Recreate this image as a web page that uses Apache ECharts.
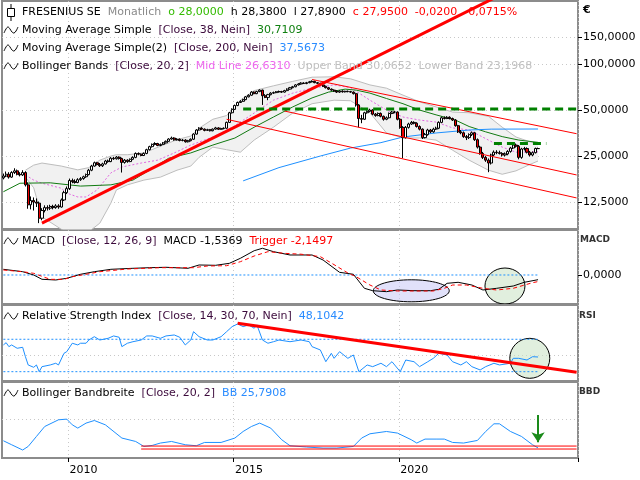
<!DOCTYPE html>
<html style="height: 100%">
<head>
    <meta charset="utf-8">
    <script src="https://cdn.jsdelivr.net/npm/echarts@6/dist/echarts.min.js"></script>
</head>
<body style="height: 100%; margin: 0; background: #fff">
    <div id="container" style="width: 640px; height: 480px"></div>
    <script type="text/javascript">
        var myChart = echarts.init(document.getElementById('container'));

        // Monatskerzen Jan 2008 .. (Index 0 = 2008-01)
        const opens = [18.0,18.5,19.0,18.2,19.5,20.0,19.0,18.8,19.5,16.2,12.0,12.8,12.5,12.3,9.8,11.0,11.5,11.4,11.7,11.5,11.8,11.6,12.9,14.4,15.3,17.3,17.0,16.8,17.5,17.8,18.3,18.9,20.2,21.5,22.6,22.0,21.6,22.2,23.2,23.0,24.2,24.0,24.6,24.1,22.7,23.5,23.0,23.8,24.5,26.0,25.7,25.2,26.0,27.5,28.8,29.8,30.2,29.3,29.8,30.5,31.2,32.3,32.8,31.9,32.2,31.6,31.8,31.0,31.5,32.2,34.8,37.0,38.0,37.5,36.8,37.2,36.6,37.5,38.2,37.4,37.8,38.0,41.5,48.0,50.5,53.5,56.0,57.0,58.5,61.0,62.5,65.5,64.0,66.0,67.5,62.0,60.5,63.0,64.5,65.0,65.8,66.0,65.5,67.0,68.5,70.0,71.0,73.0,74.0,75.0,74.5,75.5,76.5,77.0,75.5,74.8,73.0,71.5,70.0,68.5,67.5,66.5,65.5,66.5,65.8,66.3,66.0,65.5,64.0,54.0,44.0,43.5,48.0,49.0,50.0,47.0,46.0,47.5,45.5,43.5,44.5,47.5,48.5,48.5,43.5,38.5,33.0,38.5,40.5,41.5,41.0,39.0,37.5,33.0,34.5,37.0,36.0,37.5,38.0,41.5,44.5,44.0,44.8,44.0,43.0,39.5,36.0,35.5,33.5,33.0,34.5,35.5,32.0,28.6,26.0,24.5,23.5,22.5,25.4,26.5,26.3,26.0,25.4,25.8,26.8,28.2,29.5,29.0,24.5,27.8,28.0,26.5,25.4,26.3,28.0];
        const closes = [18.5,19.0,18.2,19.5,20.0,19.0,18.8,19.5,16.2,12.0,12.8,12.5,12.3,9.8,11.0,11.5,11.4,11.7,11.5,11.8,11.6,12.9,14.4,15.3,17.3,17.0,16.8,17.5,17.8,18.3,18.9,20.2,21.5,22.6,22.0,21.6,22.2,23.2,23.0,24.2,24.0,24.6,24.1,22.7,23.5,23.0,23.8,24.5,26.0,25.7,25.2,26.0,27.5,28.8,29.8,30.2,29.3,29.8,30.5,31.2,32.3,32.8,31.9,32.2,31.6,31.8,31.0,31.5,32.2,34.8,37.0,38.0,37.5,36.8,37.2,36.6,37.5,38.2,37.4,37.8,38.0,41.5,48.0,50.5,53.5,56.0,57.0,58.5,61.0,62.5,65.5,64.0,66.0,67.5,62.0,60.5,63.0,64.5,65.0,65.8,66.0,65.5,67.0,68.5,70.0,71.0,73.0,74.0,75.0,74.5,75.5,76.5,77.0,75.5,74.8,73.0,71.5,70.0,68.5,67.5,66.5,65.5,66.5,65.8,66.3,66.0,65.5,64.0,54.0,44.0,43.5,48.0,49.0,50.0,47.0,46.0,47.5,45.5,43.5,44.5,47.5,48.5,48.5,43.5,38.5,33.0,38.5,40.5,41.5,41.0,39.0,37.5,33.0,34.5,37.0,36.0,37.5,38.0,41.5,44.5,44.0,44.8,44.0,43.0,39.5,36.0,35.5,33.5,33.0,34.5,35.5,32.0,28.6,26.0,24.5,23.5,22.5,25.4,26.5,26.3,26.0,25.4,25.8,26.8,28.2,29.5,29.0,24.5,27.8,28.0,26.5,25.4,26.3,28.0,27.95];
        const highs = [19.2,19.8,19.6,19.9,20.8,20.4,19.6,20.2,19.9,16.8,13.6,13.4,13.2,12.6,11.4,11.9,11.9,12.0,12.0,12.1,12.1,13.2,14.8,15.8,17.8,17.8,17.6,17.9,18.2,18.6,19.2,20.6,21.9,23.0,22.9,22.5,22.6,23.6,23.7,24.6,24.7,25.0,24.9,24.4,23.9,23.8,24.1,24.9,26.4,26.4,26.0,26.4,27.9,29.2,30.2,30.8,30.5,30.2,30.9,31.6,32.7,33.5,33.2,32.7,32.6,32.3,32.2,31.9,32.6,35.2,37.5,38.6,38.6,37.9,37.7,37.6,37.9,38.8,38.6,38.3,38.5,42.0,48.6,51.3,54.3,56.8,58.0,59.3,61.8,63.4,66.5,66.2,66.8,68.3,68.0,63.5,63.8,65.4,66.0,66.6,67.0,66.8,67.8,69.3,70.8,71.9,73.8,74.9,76.0,76.0,76.4,77.5,78.2,77.8,76.2,75.4,73.6,72.2,70.8,69.2,68.3,67.4,67.3,67.3,66.9,67.0,66.7,66.2,64.8,54.6,46.5,48.7,49.8,51.0,50.6,47.8,48.2,48.2,46.0,45.4,48.2,49.3,49.4,49.0,44.2,39.2,39.3,41.3,42.4,42.2,41.6,39.7,37.9,35.4,37.7,37.6,38.3,38.9,42.2,45.3,45.4,45.6,45.5,44.6,43.6,40.0,37.0,36.2,34.3,35.2,36.2,36.0,32.6,29.2,26.6,25.0,24.1,25.9,27.2,27.3,27.1,26.5,26.4,27.3,28.7,30.1,30.2,29.5,28.3,28.7,28.5,27.0,26.8,28.4,28.38];
        const lows = [17.6,18.2,17.8,18.0,19.1,18.7,18.4,18.5,15.8,11.3,11.2,11.0,11.6,9.1,9.5,10.7,11.0,11.1,11.2,11.3,11.3,11.5,12.7,14.1,15.0,16.6,16.5,16.6,17.2,17.5,18.0,18.7,19.9,21.3,21.7,21.2,21.2,22.0,22.6,22.8,23.6,23.7,23.7,19.5,22.3,22.6,22.8,23.5,24.2,25.3,24.9,25.0,25.7,27.2,28.4,29.4,29.0,29.0,29.5,30.2,31.0,32.0,31.5,31.6,31.2,31.2,30.6,30.7,31.2,31.9,34.5,36.7,37.1,36.3,36.5,36.2,36.3,37.2,37.0,37.1,37.4,37.7,41.1,47.4,50.0,53.0,55.6,56.5,58.0,60.5,62.0,63.4,63.5,65.5,54.0,59.8,58.0,62.4,63.8,64.4,65.0,64.7,65.0,66.4,67.9,69.4,70.5,72.4,73.4,74.0,73.8,74.9,75.8,74.9,74.1,72.3,70.7,69.2,67.7,66.8,65.7,64.6,64.8,65.0,65.1,65.3,64.8,63.2,52.6,38.5,41.0,43.0,47.3,48.4,46.2,45.2,45.5,44.8,42.6,42.9,44.0,47.0,47.6,42.8,37.7,24.2,32.5,37.8,40.0,40.3,38.4,36.8,32.3,32.6,34.0,35.3,35.5,37.0,37.5,41.0,43.4,43.6,43.4,42.4,38.9,35.4,34.7,32.9,31.8,32.3,33.8,31.4,28.0,25.5,23.9,22.9,19.6,22.0,25.0,25.7,25.6,24.8,24.8,25.3,26.3,27.8,28.4,23.8,24.0,27.2,26.0,24.8,24.9,26.0,27.89];

        // Gleitende Durchschnitte / Bollinger (Index, Wert)
        const ma38Idx = [0,6,17,28,39,47,53,60,68,76,84,91,98,105,112,118,124,128,133,139,145,151,157,164,169,175,181,187,194];
        const ma38Val = [14.6,16.6,16.7,15.9,16.2,17.4,20.2,24.2,26.2,29.5,32.8,38.6,45,52.4,60,65.5,68.5,67.5,64.5,59.5,55,50,46.5,43,39,36,33.5,31.8,30.71];
        const ma200Idx = [87,100,115,126,137,145,157,169,177,194];
        const ma200Val = [17.2,21,25,28.2,30.6,33.3,35.4,37,37.5,37.57];
        const bbMidIdx = [8,11,14,21,23,27,30,34,39,43,50,56,62,68,76,83,91,98,105,112,120,126,133,139,145,151,157,163,169,176,181,186,194];
        const bbMidVal = [18.8,17.4,16.6,15.4,14.3,13.5,13.5,15,19.4,21.2,22.5,23.5,26.2,29.5,33.3,38.5,47.8,58,64.5,69.5,73,70,58,50,45,43,41.7,38.2,37,31.8,28.6,26.5,26.63];
        const bbIdx = [8,11,14,21,27,31,35,39,41,45,51,57,63,68,71,76,81,86,91,98,105,112,120,126,133,139,145,151,157,163,169,176,181,186,191,194];
        const bbUpper = [20.2,21.8,22.5,21.5,20.3,21.0,23.5,25.0,25.5,25.5,26.2,29.0,32.0,33.8,38.0,43.5,46.0,58.0,67.0,72.0,77.0,82.0,82.5,80.0,73.0,69.5,62.6,56.6,52.4,48.5,48.0,45.5,38.6,33.3,31.0,30.07];
        const bbLower = [18.2,15.5,10.0,8.3,7.6,8.0,9.1,12.3,15.0,16.2,17.4,18.2,20.2,21.5,24.5,28.6,27.5,26.5,31.8,38.6,47.8,55.0,58.0,57.5,48.0,35.4,32.8,32.8,31.8,27.3,23.5,20.2,19.0,20.0,22.0,23.2];

        // Trendlinien im Kurschart (Index, Kurs)
        const trendUp = [[14, 9.1], [180, 281]];
        const channelA = [[112, 79.2], [208, 35.0]];
        const channelB = [[102, 49.25], [208, 18.8]];
        const channelC = [[81, 43.5], [208, 13.3]];
        const supportLong = [[87, 50.8], [208, 50.8]];
        const supportShort = [[178, 30.2], [197, 30.2]];
        const priceTicks = [12.5, 25, 50, 100, 150];

        // MACD
        const macdIdx = [0,7,11,14,19,23,28,33,39,47,53,59,67,71,77,82,86,91,94,98,104,112,116,122,127,131,134,139,143,149,155,158,161,165,170,174,179,185,189,194];
        const macdVal = [1.86,1.08,0,-1.4,-1.63,-1.08,0.23,1.08,1.86,2.19,2.39,2.52,2.19,3.27,3.17,3.82,5.46,7.94,8.73,7.63,6.54,6.54,4.9,0.87,0.23,-4.35,-5.13,-5.45,-4.9,-5.13,-5.13,-4.67,-2.72,-2.39,-3.27,-4.9,-4.35,-3.6,-2.39,-1.5369];
        const trigIdx = [0,7,11,17,22,25,30,35,45,57,69,74,81,86,91,96,102,108,115,119,125,128,133,137,143,149,156,160,163,168,174,179,185,192,194];
        const trigVal = [1.63,1.08,0.55,-1.42,-1.42,-0.55,0.23,1.08,1.96,2.39,2.39,2.94,3.04,4.35,6.21,7.63,7.08,6.8,6.0,3.92,0.65,-0.55,-3.27,-4.9,-5.23,-5.23,-5.23,-4.35,-3.27,-3.27,-4.35,-4.9,-4.35,-2.52,-2.1497];

        // RSI
        const rsiIdx = [0,1,2,3,5,7,8,9,11,12,13,14,17,19,20,22,23,25,27,28,30,31,33,35,38,40,42,43,45,47,50,52,54,57,59,62,64,66,68,69,71,74,76,79,81,83,85,87,89,91,92,94,96,98,100,104,108,111,112,115,117,119,120,122,125,127,129,132,134,137,139,141,144,146,149,151,154,156,158,161,163,166,168,170,173,175,178,180,184,185,187,190,192,194];
        const rsiVal = [63.0,65.8,60.9,63.0,58.9,60.1,48.5,38.3,35.4,38.3,30.0,36.2,38.3,40.4,38.3,52.7,54.7,65.1,63.0,65.1,65.1,69.1,73.2,69.1,71.2,74.1,72.5,60.9,65.1,67.0,69.1,74.1,74.1,71.2,74.1,75.3,72.5,63.0,69.1,79.4,73.2,69.1,69.1,73.2,79.4,85.6,88.9,85.6,87.7,83.6,87.7,69.1,65.1,67.0,69.1,67.0,69.1,67.0,60.9,56.8,42.3,52.7,46.5,54.7,46.5,50.6,30.0,38.3,36.2,40.4,36.2,42.3,30.0,44.4,42.3,36.2,42.3,46.5,52.7,50.6,42.3,38.3,42.3,36.2,32.1,36.2,40.4,38.3,40.4,46.5,46.5,44.4,48.5,48.1042];
        const rsiTrend = [[85, 89.9], [208, 29.4]];

        // Bollinger Bandbreite
        const bbdIdx = [0,3,7,9,12,15,20,23,25,27,30,33,37,43,48,51,54,57,61,66,70,73,79,84,87,90,93,97,101,104,110,116,121,127,130,133,139,143,148,150,153,157,160,163,167,172,175,178,180,184,188,192,194];
        const bbdVal = [44.0,33.8,20.4,29.5,55.0,80.4,97.5,99.2,84.7,76.3,89.1,95.7,84.7,50.9,42.2,29.5,32.1,38.2,42.2,33.8,31.3,39.7,39.7,50.9,67.7,80.4,89.1,76.3,46.6,31.3,28.0,25.4,25.4,29.5,50.9,61.8,67.7,63.6,46.6,38.2,48.3,48.3,48.3,39.7,38.2,44.8,67.7,87.3,87.3,67.7,55.0,33.8,25.7908];
        const bbdSupport = [[50, 30.5], [208, 30.5]];
        const bbdSupport2 = [[50, 22.9], [208, 22.9]];

        // Markierungen (Index, Wert) und Radien in Pixel
        const macdOval = { idx: 147.5, val: -5.16, rx: 38, ry: 11 };
        const macdCircle = { idx: 182, val: -3.6, rx: 20, ry: 18 };
        const rsiCircle = { idx: 191, val: 46.5, rx: 20, ry: 20 };

        // Kategorien: Monate bis 2025
        const months = [];
        for (let i = 0; i < 209; i++) {
            const y = 2008 + Math.floor(i / 12), m = i % 12 + 1;
            months.push(y + '-' + (m < 10 ? '0' : '') + m);
        }

        const lg = v => Math.log2(v);
        const pair = (idx, vals) => idx.map((i, k) => [i, vals[k]]);
        const lgPts = pts => pts.map(p => [p[0], lg(p[1])]);
        const fmt4 = v => v.toFixed(4).replace('.', ',');
        const isYear = i => i % 12 === 0 && (2008 + i / 12) % 5 === 0 && i < 200;

        const font = 'DejaVu Sans';
        const dotted = { color: '#c8c8c8', type: [1, 3], width: 1 };
        const panels = [[1, 228], [230, 74], [305, 76], [382, 76]];

        function xAxisFor(g) {
            const last = g === 3;
            return {
                type: 'category', gridIndex: g, data: months,
                axisLine: { show: false },
                axisTick: { show: last, interval: isYear, length: 4, lineStyle: { color: '#000' } },
                axisLabel: {
                    show: last, interval: isYear, align: 'left', margin: 7,
                    fontFamily: font, fontSize: 11, color: '#000',
                    formatter: v => v.slice(0, 4)
                },
                splitLine: { show: true, interval: isYear, lineStyle: dotted }
            };
        }

        function line(g, data, color, width, type, z) {
            return {
                type: 'line', xAxisIndex: g, yAxisIndex: g, data: data,
                symbol: 'none', silent: true, z: z || 3,
                lineStyle: { color: color, width: width, type: type || 'solid' }
            };
        }

        const series = [
            // Bollinger-Band Fläche
            Object.assign(line(0, pair(bbIdx, bbLower.map(lg)), '#bdbdbd', 1, 'solid', 1), { stack: 'bb' }),
            Object.assign(line(0, pair(bbIdx, bbUpper.map((u, k) => lg(u) - lg(bbLower[k]))), '#bdbdbd', 1, 'solid', 1),
                { stack: 'bb', areaStyle: { color: '#f1f1f1', opacity: 1 } }),
            line(0, pair(bbMidIdx, bbMidVal.map(lg)), '#e066e0', 1, [2, 2], 2),
            line(0, pair(ma38Idx, ma38Val.map(lg)), '#117a11', 1, 'solid', 2),
            line(0, pair(ma200Idx, ma200Val.map(lg)), '#1e90ff', 1, 'solid', 2),
            {
                type: 'candlestick', xAxisIndex: 0, yAxisIndex: 0, z: 4, barWidth: 2.6,
                data: opens.map((o, i) => [lg(o), lg(closes[i]), lg(lows[i]), lg(highs[i])]),
                itemStyle: { color: '#ffffff', color0: '#ee0000', borderColor: '#000', borderColor0: '#000', borderWidth: 1 }
            },
            line(0, lgPts(channelA), '#ff0000', 1, 'solid', 5),
            line(0, lgPts(channelB), '#ff0000', 1, 'solid', 5),
            line(0, lgPts(channelC), '#ff0000', 1, 'solid', 5),
            line(0, lgPts(trendUp), '#ff0000', 3, 'solid', 6),
            line(0, lgPts(supportLong), '#008000', 3, [8, 5], 6),
            line(0, lgPts(supportShort), '#008000', 3, [8, 5], 6),
            // MACD
            line(1, [[0, 0], [194, 0]], '#1e90ff', 1, [2, 2], 2),
            line(1, pair(macdIdx, macdVal), '#000000', 1, 'solid', 3),
            line(1, pair(trigIdx, trigVal), '#ff0000', 1, [4, 3], 4),
            // RSI
            line(2, [[0, 70], [194, 70]], '#1e90ff', 1, [2, 2], 2),
            line(2, [[0, 30], [194, 30]], '#1e90ff', 1, [2, 2], 2),
            line(2, pair(rsiIdx, rsiVal), '#1e90ff', 1, 'solid', 3),
            line(2, rsiTrend, '#ff0000', 3, 'solid', 4),
            // Bandbreite
            Object.assign(line(3, pair(bbdIdx, bbdVal), '#1e90ff', 1, 'solid', 3), {
                markLine: {
                    silent: true, animation: false, symbol: ['none', 'arrow'], symbolSize: [10, 10],
                    label: { show: false },
                    lineStyle: { color: '#1a8a1a', width: 2, type: 'solid' },
                    data: [[{ coord: [194, 110] }, { coord: [194, 40] }]]
                }
            }),
            line(3, bbdSupport, '#ff0000', 1, 'solid', 4),
            line(3, bbdSupport2, '#ff0000', 1, 'solid', 4)
        ];

        const yRanges = [[lg(8.33), lg(258.4)], [-9.48, 14.71], [18.5, 112.3], [0, 194]];

        function yAxisFor(g) {
            const ax = {
                type: 'value', gridIndex: g, position: 'right',
                min: yRanges[g][0], max: yRanges[g][1],
                axisLine: { show: false },
                axisTick: { show: false },
                axisLabel: { show: false },
                splitLine: { show: false }
            };
            if (g === 0) {
                const vals = priceTicks.map(lg);
                ax.axisTick = { show: true, customValues: vals, length: 4, lineStyle: { color: '#000' } };
                ax.axisLabel = { show: true, customValues: vals, margin: 5, fontFamily: font, fontSize: 11, color: '#000',
                    formatter: v => fmt4(Math.pow(2, v)) };
                ax.splitLine = { show: true, lineStyle: dotted };
            } else if (g === 1) {
                ax.axisTick = { show: true, customValues: [0], length: 4, lineStyle: { color: '#000' } };
                ax.axisLabel = { show: true, customValues: [0], margin: 5, fontFamily: font, fontSize: 11, color: '#000',
                    formatter: v => fmt4(v) };
            } else if (g === 2) {
                ax.axisTick = { show: false, customValues: [50] };
                ax.splitLine = { show: true, lineStyle: dotted };
            } else {
                ax.axisTick = { show: false, customValues: [100] };
                ax.splitLine = { show: true, lineStyle: dotted };
            }
            return ax;
        }

        function txt(x, y, text, rich, extra) {
            return Object.assign({
                type: 'text', z: 20, silent: true,
                style: {
                    x: x, y: y, text: text, fontFamily: font, fontSize: 11, fill: '#000',
                    verticalAlign: 'middle', rich: rich || {}
                }
            }, extra || {});
        }
        const r = c => ({ fill: c, fontFamily: font, fontSize: 11 });
        const rich = {
            k: r('#000000'), d: r('#3c0a3c'), g: r('#8a8a8a'), o: r('#33bb00'), red: r('#ff0000'),
            gr: r('#108010'), b: r('#2a8cff'), p: r('#ee66ee'), lg: r('#c0c0c0')
        };
        // kleines Wellen-Symbol vor den Legendenzeilen
        const wave = (y) => ({
            type: 'polyline', z: 20, silent: true,
            shape: { points: [[4, y + 3], [6, y - 1], [8, y - 3], [10, y - 1], [12, y + 2], [14, y + 3], [16, y + 1], [18, y - 3]], smooth: 0.4 },
            style: { fill: null, stroke: '#000', lineWidth: 1 }
        });

        const graphics = [
            { type: 'rect', z: 20, silent: true, shape: { x: 7.5, y: 8.5, width: 7, height: 8 }, style: { fill: '#fff', stroke: '#000', lineWidth: 1 } },
            { type: 'line', z: 20, silent: true, shape: { x1: 11, y1: 4, x2: 11, y2: 8.5 }, style: { stroke: '#000', lineWidth: 1 } },
            { type: 'line', z: 20, silent: true, shape: { x1: 11, y1: 16.5, x2: 11, y2: 21 }, style: { stroke: '#000', lineWidth: 1 } },
            txt(22, 12, '{k|FRESENIUS SE}  {g|Monatlich}  {o|o 28,0000}  {k|h 28,3800}  {k|l 27,8900}  {red|c 27,9500  -0,0200  -0,0715%}', rich),
            wave(30), txt(22, 30, '{k|Moving Average Simple}  {d|[Close, 38, Nein]}  {gr|30,7109}', rich),
            wave(48), txt(22, 48, '{k|Moving Average Simple(2)}  {d|[Close, 200, Nein]}  {b|37,5673}', rich),
            wave(66), txt(22, 66, '{k|Bollinger Bands}  {d|[Close, 20, 2]}  {p|Mid Line 26,6310}  {lg|Upper Band 30,0652  Lower Band 23,1968}', rich),
            wave(241), txt(22, 241, '{k|MACD}  {d|[Close, 12, 26, 9]}  {k|MACD -1,5369}  {red|Trigger -2,1497}', rich),
            wave(316), txt(22, 316, '{k|Relative Strength Index}  {d|[Close, 14, 30, 70, Nein]}  {b|48,1042}', rich),
            wave(393), txt(22, 393, '{k|Bollinger Bandbreite}  {d|[Close, 20, 2]}  {b|BB 25,7908}', rich),
            txt(583, 10, '€', null, { style: { x: 583, y: 10, text: '€', fontFamily: font, fontSize: 11, fontWeight: 'bold', fill: '#000', verticalAlign: 'middle' } }),
            txt(580, 240, 'MACD', null, { style: { x: 580, y: 240, text: 'MACD', fontFamily: font, fontSize: 9, fontWeight: 'bold', fill: '#333', verticalAlign: 'middle' } }),
            txt(579, 316, 'RSI', null, { style: { x: 579, y: 316, text: 'RSI', fontFamily: font, fontSize: 9, fontWeight: 'bold', fill: '#333', verticalAlign: 'middle' } }),
            txt(579, 392, 'BBD', null, { style: { x: 579, y: 392, text: 'BBD', fontFamily: font, fontSize: 9, fontWeight: 'bold', fill: '#333', verticalAlign: 'middle' } })
        ];

        const option = {
            animation: false,
            backgroundColor: '#ffffff',
            grid: panels.map(p => ({
                left: 2, width: 576, top: p[0], height: p[1],
                show: true, borderColor: '#8c8c8c', borderWidth: 2, backgroundColor: 'transparent'
            })),
            xAxis: [0, 1, 2, 3].map(xAxisFor),
            yAxis: [0, 1, 2, 3].map(yAxisFor),
            series: series,
            graphic: graphics
        };

        myChart.setOption(option);

        // Ovale und Kreise in Datenkoordinaten platzieren
        function oval(g, o, fill) {
            const c = myChart.convertToPixel({ gridIndex: g }, [o.idx, o.val]);
            const p = panels[g];
            return {
                type: 'ellipse', z: 1, silent: true,
                shape: { cx: c[0], cy: c[1], rx: o.rx, ry: o.ry },
                style: { fill: fill, stroke: '#000', lineWidth: 1 },
                clipPath: { type: 'rect', shape: { x: 2, y: p[0], width: 576, height: p[1] } }
            };
        }
        myChart.setOption({
            graphic: graphics.concat([
                oval(1, macdOval, 'rgba(200,200,245,0.55)'),
                oval(1, macdCircle, 'rgba(200,225,195,0.55)'),
                oval(2, rsiCircle, 'rgba(200,225,195,0.55)')
            ])
        });
        window.addEventListener('resize', function() { myChart.resize(); });
    </script>
</body>
</html>
